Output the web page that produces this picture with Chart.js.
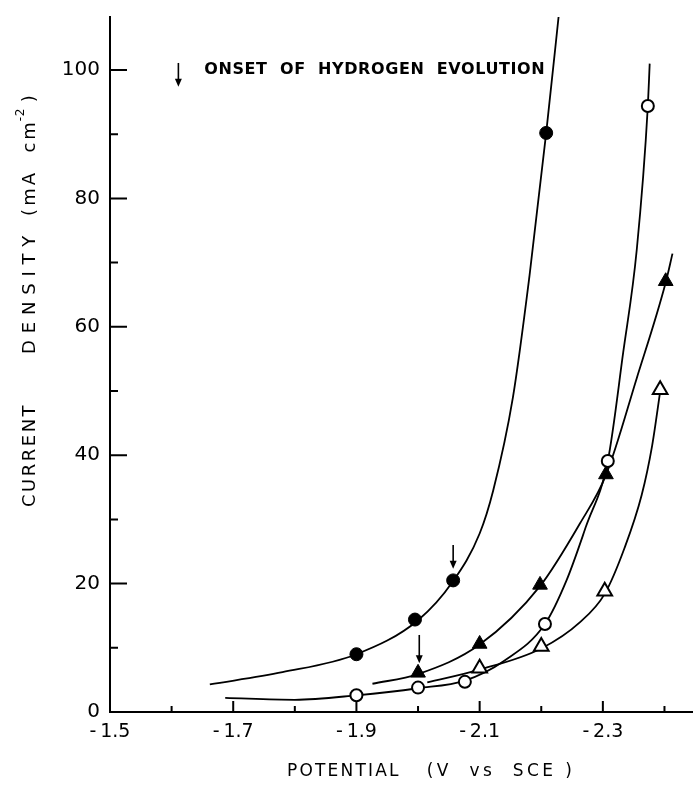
<!DOCTYPE html>
<html>
<head>
<meta charset="utf-8">
<script src="https://cdn.jsdelivr.net/npm/chart.js@4.4.0/dist/chart.umd.min.js"></script>
<style>
  html, body { margin: 0; padding: 0; background: #fff; overflow: hidden; }
  #wrap { width: 693px; height: 790px; position: relative; }
</style>
</head>
<body>
<div id="wrap"><canvas id="c"></canvas></div>
<script>
// ---- axis ticks ----
const xMajorTicks = [-1.5, -1.7, -1.9, -2.1, -2.3];
const xMinorTicks = [-1.6, -1.8, -2.0, -2.2, -2.4];
const yMajorTicks = [0, 20, 40, 60, 80, 100];
const yMinorTicks = [10, 30, 50, 70, 90];
const xRange = [-2.4463, -1.5];
const yRange = [0, 108.26];

// ---- measured points (potential V vs SCE, current density mA cm^-2) ----
const filledCircleX = [-1.9, -1.995, -2.057, -2.208];
const filledCircleY = [9.0, 14.4, 20.5, 90.2];
const filledTriangleX = [-2.0, -2.1, -2.198, -2.305, -2.402];
const filledTriangleY = [6.1, 10.6, 19.8, 37.0, 67.1];
const openCircleX = [-1.9, -2.0, -2.076, -2.206, -2.308, -2.373];
const openCircleY = [2.6, 3.8, 4.7, 13.7, 39.1, 94.4];
const openTriangleX = [-2.1, -2.2, -2.303, -2.393];
const openTriangleY = [6.8, 10.2, 18.8, 50.2];

// ---- fitted curves ----
const curveFilledCircleX = [-1.662, -1.78, -1.9, -2.0, -2.057, -2.1, -2.122, -2.154, -2.181, -2.208, -2.23];
const curveFilledCircleY = [4.3, 6.2, 9.0, 14.3, 20.4, 27.8, 34.5, 49.0, 68.0, 90.2, 110.0];
const curveFilledTriangleX = [-1.926, -2.0, -2.1, -2.198, -2.263, -2.305, -2.355, -2.402, -2.413];
const curveFilledTriangleY = [4.4, 5.9, 10.5, 19.6, 29.4, 36.9, 52.0, 66.9, 71.4];
const curveOpenCircleX = [-1.687, -1.8, -1.9, -2.0, -2.076, -2.14, -2.206, -2.241, -2.273, -2.308, -2.333, -2.355, -2.373, -2.376];
const curveOpenCircleY = [2.2, 1.9, 2.6, 3.7, 4.9, 8.0, 13.7, 20.5, 29.0, 39.1, 56.0, 72.0, 94.4, 101.0];
const curveOpenTriangleX = [-2.015, -2.1, -2.2, -2.263, -2.303, -2.335, -2.363, -2.38, -2.393];
const curveOpenTriangleY = [4.6, 6.6, 9.9, 14.0, 18.4, 25.5, 33.8, 41.5, 49.9];

// ---- onset-of-hydrogen-evolution arrows ----
const onsetX = [-2.057, -2.002];
const onsetTailY = [26.0, 12.0];
const onsetTipY = [22.3, 7.6];

// ---- note ----
const noteArrowX = -1.611;
const noteArrowTailY = 101.1;
const noteArrowTipY = 97.4;
const noteTextX = -1.653;
const noteTextY = 100;
const noteText = 'ONSET  OF  HYDROGEN  EVOLUTION';

const xTitleParts = ['POTENTIAL', '(V  vs  SCE )'];
const yTitleParts = ['CURRENT', 'DENSITY', '(mA  cm', '-2', ')'];

const pts = (xs, ys) => xs.map((v, i) => ({ x: v, y: ys[i] }));

function curve(xs, ys) {
  return {
    type: 'line', data: pts(xs, ys), borderColor: '#000', borderWidth: 1.8,
    pointRadius: 0, cubicInterpolationMode: 'monotone', fill: false, order: 2
  };
}
function markers(xs, ys, style, filled, r) {
  return {
    type: 'line', data: pts(xs, ys), showLine: false, pointStyle: style,
    pointRadius: r, pointBackgroundColor: filled ? '#000' : '#fff',
    pointBorderColor: '#000', pointBorderWidth: filled ? 1 : 2, order: 1
  };
}

function spaced(ctx, text, x, y, spacing) {
  ctx.letterSpacing = spacing + 'px';
  ctx.fillText(text, x, y);
  const w = ctx.measureText(text).width;
  ctx.letterSpacing = '0px';
  return w;
}

function arrow(ctx, px, tail, tip) {
  ctx.beginPath();
  ctx.moveTo(px, tail);
  ctx.lineTo(px, tip - 6);
  ctx.stroke();
  ctx.beginPath();
  ctx.moveTo(px - 3.5, tip - 8);
  ctx.lineTo(px + 3.5, tip - 8);
  ctx.lineTo(px, tip);
  ctx.closePath();
  ctx.fill();
}

const decor = {
  id: 'decor',
  afterDraw(chart) {
    const { ctx, chartArea: a, scales: { x, y } } = chart;
    ctx.save();
    ctx.strokeStyle = '#000';
    ctx.fillStyle = '#000';
    ctx.lineWidth = 2;
    // inward ticks
    ctx.beginPath();
    yMajorTicks.forEach(v => { const p = y.getPixelForValue(v); ctx.moveTo(a.left, p); ctx.lineTo(a.left + 17, p); });
    yMinorTicks.forEach(v => { const p = y.getPixelForValue(v); ctx.moveTo(a.left, p); ctx.lineTo(a.left + 8, p); });
    xMajorTicks.forEach(v => { const p = x.getPixelForValue(v); ctx.moveTo(p, a.bottom); ctx.lineTo(p, a.bottom - 11); });
    xMinorTicks.forEach(v => { const p = x.getPixelForValue(v); ctx.moveTo(p, a.bottom); ctx.lineTo(p, a.bottom - 6); });
    ctx.stroke();

    // onset arrows
    ctx.lineWidth = 1.6;
    onsetX.forEach((v, i) => arrow(ctx, x.getPixelForValue(v), y.getPixelForValue(onsetTailY[i]), y.getPixelForValue(onsetTipY[i])));
    arrow(ctx, x.getPixelForValue(noteArrowX), y.getPixelForValue(noteArrowTailY), y.getPixelForValue(noteArrowTipY));

    // note text
    ctx.font = 'bold 16px "DejaVu Sans"';
    ctx.textAlign = 'left';
    ctx.textBaseline = 'middle';
    spaced(ctx, noteText, x.getPixelForValue(noteTextX), y.getPixelForValue(noteTextY), 0.6);

    // x title
    ctx.font = '17px "DejaVu Sans"';
    ctx.textBaseline = 'middle';
    const xt = 287;
    const w0 = spaced(ctx, xTitleParts[0], xt, 772, 2.2);
    spaced(ctx, xTitleParts[1], xt + w0 + 26, 772, 3.4);

    // y title (rotated)
    ctx.translate(30, 507);
    ctx.rotate(-Math.PI / 2);
    ctx.font = '18px "DejaVu Sans"';
    let px = 0;
    px += spaced(ctx, yTitleParts[0], px, 0, 2.5) + 49;
    px += spaced(ctx, yTitleParts[1], px, 0, 6.8) + 13;
    px += spaced(ctx, yTitleParts[2], px, 0, 3);
    ctx.font = '12px "DejaVu Sans"';
    px += spaced(ctx, yTitleParts[3], px - 2, -9, 0.5) + 4;
    ctx.font = '18px "DejaVu Sans"';
    spaced(ctx, yTitleParts[4], px, 0, 0);
    ctx.restore();
  }
};

new Chart(document.getElementById('c'), {
  type: 'line',
  data: {
    datasets: [
      markers(filledCircleX, filledCircleY, 'circle', true, 6.5),
      markers(filledTriangleX, filledTriangleY, 'triangle', true, 8.5),
      markers(openCircleX, openCircleY, 'circle', false, 6),
      markers(openTriangleX, openTriangleY, 'triangle', false, 8.5),
      curve(curveFilledCircleX, curveFilledCircleY),
      curve(curveFilledTriangleX, curveFilledTriangleY),
      curve(curveOpenCircleX, curveOpenCircleY),
      curve(curveOpenTriangleX, curveOpenTriangleY)
    ]
  },
  options: {
    responsive: true,
    maintainAspectRatio: false,
    devicePixelRatio: 1,
    animation: false,
    events: [],
    layout: { autoPadding: false, padding: { top: 17, right: 0, left: 0, bottom: 0 } },
    plugins: { legend: { display: false }, tooltip: { enabled: false } },
    scales: {
      x: {
        type: 'linear', reverse: true, min: xRange[0], max: xRange[1],
        afterBuildTicks: s => { s.ticks = xMajorTicks.map(v => ({ value: v })); },
        afterFit: s => { s.height = 78; s.paddingLeft = 0; s.paddingRight = 0; s.paddingTop = 0; s.paddingBottom = 0; },
        ticks: {
          color: '#000', font: { family: 'DejaVu Sans', size: 19 }, padding: 9,
          maxRotation: 0, autoSkip: false,
          callback: v => '-\u2009' + Math.abs(v).toFixed(1)
        },
        grid: { display: true, drawOnChartArea: false, drawTicks: false },
        border: { display: true, color: '#000', width: 2 }
      },
      y: {
        type: 'linear', min: yRange[0], max: yRange[1],
        afterBuildTicks: s => { s.ticks = yMajorTicks.map(v => ({ value: v })); },
        afterFit: s => { s.width = 110; s.paddingLeft = 0; s.paddingRight = 0; s.paddingTop = 0; s.paddingBottom = 0; },
        ticks: { color: '#000', font: { family: 'DejaVu Sans', size: 20 }, padding: 10, autoSkip: false },
        grid: { display: true, drawOnChartArea: false, drawTicks: false },
        border: { display: true, color: '#000', width: 2 }
      }
    }
  },
  plugins: [decor]
});
</script>
</body>
</html>
